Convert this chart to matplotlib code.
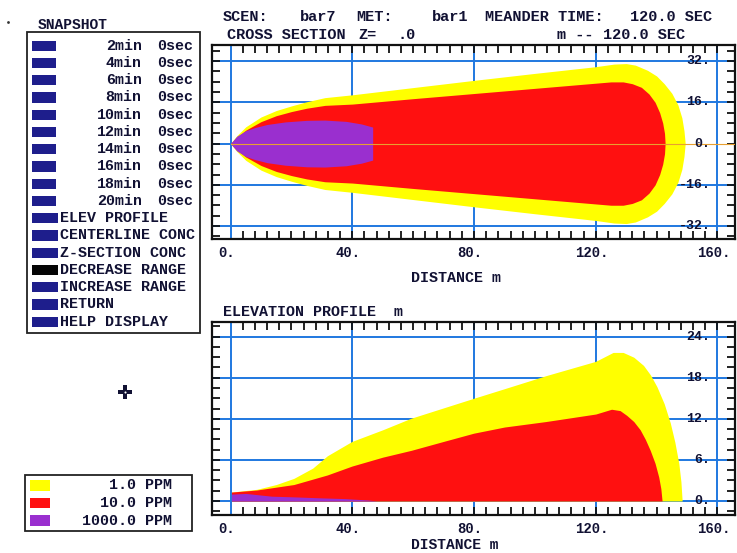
import matplotlib
matplotlib.use("Agg")
import matplotlib.pyplot as plt
import numpy as np
from matplotlib.patches import Rectangle
from matplotlib.transforms import offset_copy, blended_transform_factory

# ---------------- data ----------------
levels = ["1.0 PPM", "10.0 PPM", "1000.0 PPM"]
level_colors = ["#ffff00", "#ff1010", "#9a2fcf"]

# cross section (plan view) half-widths, m
cross_x_1 = [0, 2, 5, 10, 15, 20, 25, 31, 40, 60, 80, 100, 120, 126, 130, 133, 137, 140, 142.5, 145, 147, 148.3, 149, 149.4]
cross_w_1 = [0, 3.0, 6.5, 10.3, 12.8, 14.6, 16.2, 17.8, 18.9, 21.7, 24.5, 27.2, 29.8, 30.8, 31.0, 30.4, 28.4, 26.2, 23.2, 19.5, 15.0, 10.0, 5.0, 0]
cross_x_10 = [0, 2, 5, 10, 15, 20, 25, 31, 40, 60, 80, 100, 120, 125, 129, 132, 135, 137.5, 139.5, 141, 142, 142.6, 142.8]
cross_w_10 = [0, 2.4, 5.2, 8.5, 10.8, 12.4, 13.7, 14.8, 15.3, 17.4, 19.4, 21.4, 23.4, 23.9, 23.9, 23.2, 21.8, 19.2, 16.0, 12.0, 8.0, 4.0, 0]
cross_x_1000 = [0, 2, 5, 8, 12, 18, 25, 31, 38, 43, 46.7, 46.7]
cross_w_1000 = [0, 2.8, 5.0, 6.2, 7.4, 8.4, 9.0, 9.1, 8.6, 7.6, 6.4, 0]

# elevation profile heights, m
elev_x_1 = [0.3, 0.3, 8.6, 15, 20.8, 27, 31.8, 39.9, 50, 59.4, 70, 79.9, 90, 103.6, 120, 125.7, 129, 132.5, 135.7, 138, 140.1, 142.5, 144.5, 146, 147.3, 148.0, 148.4]
elev_h_1 = [0, 1.3, 1.7, 2.4, 3.3, 4.8, 6.6, 8.7, 10.4, 12.1, 13.6, 15.0, 16.4, 18.3, 20.4, 21.7, 21.7, 21.0, 19.8, 18.4, 16.7, 14.2, 11.4, 8.6, 5.5, 2.8, 0]
elev_x_10 = [0.3, 0.3, 8.6, 20.8, 31.8, 39.9, 50, 59.4, 70, 79.9, 90, 103.6, 120, 125.2, 128, 130.2, 132.5, 134.6, 136.3, 137.9, 139.5, 140.7, 141.4, 141.8]
elev_h_10 = [0, 1.3, 1.6, 2.4, 3.8, 5.1, 6.4, 7.4, 8.7, 9.9, 10.8, 11.6, 12.7, 13.4, 13.2, 12.5, 11.6, 10.4, 9.0, 7.4, 5.5, 3.5, 1.8, 0]
elev_x_1000 = [0.3, 0.3, 5, 13.5, 20.8, 30, 37.3, 45, 48]
elev_h_1000 = [0, 1.0, 1.1, 0.7, 0.6, 0.45, 0.35, 0.15, 0]

x_ticks = [0, 40, 80, 120, 160]
x_ticklabels = ["0.", "40.", "80.", "120.", "160."]
cross_yticks = [32, 16, 0, -16, -32]
cross_yticklabels = ["32.", "16.", "0.", "-16.", "-32."]
elev_yticks = [24, 18, 12, 6, 0]
elev_yticklabels = ["24.", "18.", "12.", "6.", "0."]

snapshot_times = ["2min", "4min", "6min", "8min", "10min", "12min", "14min", "16min", "18min", "20min"]
menu_actions = ["ELEV PROFILE", "CENTERLINE CONC", "Z-SECTION CONC", "DECREASE RANGE",
                "INCREASE RANGE", "RETURN", "HELP DISPLAY"]

header_1 = [("SCEN:", 222.7), ("bar7", 300), ("MET:", 356.7), ("bar1", 431.7),
            ("MEANDER TIME:", 485), ("120.0 SEC", 630)]
header_2 = [("CROSS SECTION", 226.7), ("Z=", 358), (".0", 398), ("m --", 556.7), ("120.0 SEC", 603)]

# ---------------- style ----------------
FONT = ["Liberation Mono", "DejaVu Sans Mono"]
TXT = "#111133"
GRID = "#1f78e0"
NAVY = "#1e1e8c"
W, H = 737, 553

fig = plt.figure(figsize=(W / 100, H / 100), dpi=100)
fig.patch.set_facecolor("white")


def rect(l, t, r, b):
    return [l / W, 1 - b / H, (r - l) / W, (b - t) / H]


def T(ax, x, y, s, size=10.8, **kw):
    kw.setdefault("ha", "left")
    kw.setdefault("va", "center")
    ax.text(x, y, s, fontsize=size, family=FONT, weight="bold", color=TXT, **kw)


# overlay in pixel coordinates
ov = fig.add_axes([0, 0, 1, 1])
ov.set_xlim(0, W)
ov.set_ylim(H, 0)
ov.axis("off")

# --------------- plots ----------------
XLIM = (-6.0, 165.6)
ax1 = fig.add_axes(rect(212.3, 45, 734.5, 239.3))
ax2 = fig.add_axes(rect(212.3, 322.3, 734.5, 515))

for ax, ylim, yminor in ((ax1, (-37.1, 38.2), np.arange(-36, 37, 4)),
                         (ax2, (-2.05, 26.1), np.arange(-1.5, 26, 1.5))):
    ax.set_xlim(*XLIM)
    ax.set_ylim(*ylim)
    ax.set_xticks([])
    ax.set_yticks([])
    ax.set_xticks(np.arange(4, 161, 4), minor=True)
    ax.set_yticks(yminor, minor=True)
    ax.tick_params(which="minor", direction="in", length=5.5, width=1.3, colors="#111111",
                   top=True, bottom=True, left=True, right=True,
                   labelbottom=False, labelleft=False)
    for sp in ax.spines.values():
        sp.set_linewidth(1.6)
        sp.set_color("#111111")
    for v in x_ticks:
        ax.axvline(v, color=GRID, lw=1.4, zorder=0.5)
    tr = offset_copy(blended_transform_factory(ax.transData, ax.transAxes), fig=fig,
                     x=-4, y=-14, units="dots")
    for v, lab in zip(x_ticks, x_ticklabels):
        ax.text(v, 0, lab, transform=tr, ha="center", va="center", fontsize=10,
                family=FONT, weight="bold", color=TXT, clip_on=False)

# cross-section plot
zf = (0 - XLIM[0]) / (XLIM[1] - XLIM[0])
for v in cross_yticks:
    if v == 0:
        ax1.axhline(0, xmin=0, xmax=zf, color=GRID, lw=1.4, zorder=0.5)
    else:
        ax1.axhline(v, color=GRID, lw=1.4, zorder=0.5)
for xs, ws, c in ((cross_x_1, cross_w_1, level_colors[0]),
                  (cross_x_10, cross_w_10, level_colors[1]),
                  (cross_x_1000, cross_w_1000, level_colors[2])):
    w = np.array(ws)
    ax1.fill_between(xs, -w, w, color=c, lw=0, zorder=1)
ax1.axhline(0, xmin=zf, xmax=1, color="#e8a030", lw=0.8, zorder=3)
tr1 = offset_copy(ax1.transData, fig=fig, x=-7, y=0, units="dots")
for v, lab in zip(cross_yticks, cross_yticklabels):
    ax1.text(160, v, lab, transform=tr1, ha="right", va="center", fontsize=9.5,
             family=FONT, weight="bold", color=TXT, zorder=4)

# elevation plot
for v in elev_yticks:
    ax2.axhline(v, color=GRID, lw=1.4, zorder=0.5)
for xs, hs, c in ((elev_x_1, elev_h_1, level_colors[0]),
                  (elev_x_10, elev_h_10, level_colors[1]),
                  (elev_x_1000, elev_h_1000, level_colors[2])):
    ax2.fill_between(xs, 0, hs, color=c, lw=0, zorder=1)
tr2 = offset_copy(ax2.transData, fig=fig, x=-7, y=0, units="dots")
for v, lab in zip(elev_yticks, elev_yticklabels):
    ax2.text(160, v, lab, transform=tr2, ha="right", va="center", fontsize=9.5,
             family=FONT, weight="bold", color=TXT, zorder=4)

# --------------- texts ----------------
for s, x in header_1:
    T(ov, x, 17, s, size=11)
for s, x in header_2:
    T(ov, x, 35, s, size=11)
T(ov, 411, 278, "DISTANCE m", size=10.8)
T(ov, 223, 311.5, "ELEVATION PROFILE  m", size=10.8)
T(ov, 411, 545, "DISTANCE m", size=10.5)

# --------------- menu ----------------
T(ov, 38, 25, "SNAPSHOT", size=10.5)
ov.add_patch(Rectangle((26.7, 31.7), 173.3, 301.3, fill=False, lw=1.3, ec="#222222"))
y0, dy = 45.7, 17.25
for i, t in enumerate(snapshot_times):
    y = y0 + i * dy
    ov.add_patch(Rectangle((32.3, y - 5.2), 23.7, 10.4, color=NAVY, lw=0))
    T(ov, 141.7, y, t, ha="right")
    T(ov, 156.7, y, "0sec")
for j, a in enumerate(menu_actions):
    y = y0 + (len(snapshot_times) + j) * dy
    col = "#050505" if a == "DECREASE RANGE" else NAVY
    ov.add_patch(Rectangle((32.3, y - 5.2), 26, 10.4, color=col, lw=0))
    T(ov, 60, y, a)

# --------------- legend ----------------
ov.add_patch(Rectangle((25, 475), 166.7, 56, fill=False, lw=1.3, ec="#222222"))
for k, (lab, col) in enumerate(zip(levels, level_colors)):
    y = 485.3 + k * 17.7
    ov.add_patch(Rectangle((30, y - 5.3), 20, 10.6, color=col, lw=0))
    T(ov, 171.7, y, lab, ha="right")

# cursor & speck
ov.plot([125], [392], marker="P", ms=10, color=TXT, mew=0)
ov.plot([125], [392], marker="o", ms=1.5, color="white", mew=0)
ov.plot([8], [22], marker="o", ms=2, color="#333333", mew=0)

fig.savefig("out.png", dpi=100)
